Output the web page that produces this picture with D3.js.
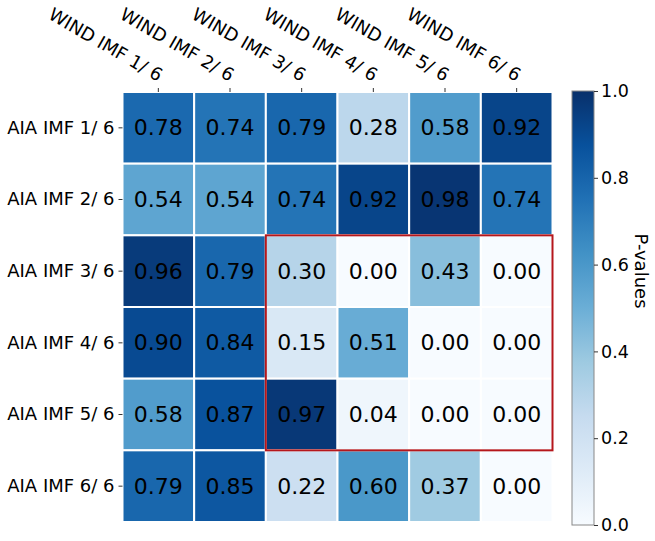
<!DOCTYPE html>
<html>
<head>
<meta charset="utf-8">
<script src="https://cdn.jsdelivr.net/npm/d3@7"></script>
<style>
  body { margin: 0; background: #fff; }
  text { font-family: "DejaVu Sans", sans-serif; }
</style>
</head>
<body>
<svg id="chart" width="655" height="541"></svg>
<script>
const rowLabels = ['AIA IMF 1/ 6', 'AIA IMF 2/ 6', 'AIA IMF 3/ 6', 'AIA IMF 4/ 6', 'AIA IMF 5/ 6', 'AIA IMF 6/ 6'];
const colLabels = ['WIND IMF 1/ 6', 'WIND IMF 2/ 6', 'WIND IMF 3/ 6', 'WIND IMF 4/ 6', 'WIND IMF 5/ 6', 'WIND IMF 6/ 6'];
const pValues = [
    [0.78, 0.74, 0.79, 0.28, 0.58, 0.92],
    [0.54, 0.54, 0.74, 0.92, 0.98, 0.74],
    [0.96, 0.79, 0.30, 0.00, 0.43, 0.00],
    [0.90, 0.84, 0.15, 0.51, 0.00, 0.00],
    [0.58, 0.87, 0.97, 0.04, 0.00, 0.00],
    [0.79, 0.85, 0.22, 0.60, 0.37, 0.00]
];
const cbTicks = [0.0, 0.2, 0.4, 0.6, 0.8, 1.0];
// highlighted block: rows 3..5, cols 3..6
const boxRows = [2, 4];
const boxCols = [2, 5];

const blues = ['#f7fbff', '#deebf7', '#c6dbef', '#9ecae1', '#6baed6', '#4292c6', '#2171b5', '#08519c', '#08306b'];

let svg = d3.select('#chart');

const gridLeft = 122.5, gridTop = 92, gridSize = 430;

const x = d3.scaleBand().domain(d3.range(6)).range([gridLeft, gridLeft + gridSize]);
const y = d3.scaleBand().domain(d3.range(6)).range([gridTop, gridTop + gridSize]);
const color = d3.scaleLinear()
    .domain(d3.range(9).map(i => i / 8))
    .range(blues)
    .clamp(true);

const cells = [];
pValues.forEach((row, r) => row.forEach((v, c) => cells.push({ r, c, v })));

let g = svg.append('g');
g.selectAll('rect')
    .data(cells)
    .join('rect')
    .attr('x', d => x(d.c))
    .attr('y', d => y(d.r))
    .attr('width', x.bandwidth())
    .attr('height', y.bandwidth())
    .style('fill', d => color(d.v))
    .style('stroke', '#fff')
    .style('stroke-width', 2);

g.selectAll('text')
    .data(cells)
    .join('text')
    .attr('x', d => x(d.c) + x.bandwidth() / 2)
    .attr('y', d => y(d.r) + y.bandwidth() / 2)
    .attr('text-anchor', 'middle')
    .attr('dominant-baseline', 'central')
    .style('font-size', '22px')
    .style('fill', '#000')
    .text(d => d.v.toFixed(2));

// row axis on left
let yAxis = svg.append('g')
    .attr('transform', `translate(${gridLeft},0)`)
    .call(d3.axisLeft(y).tickSize(4).tickPadding(4).tickFormat(i => rowLabels[i]));
yAxis.select('.domain').remove();
yAxis.selectAll('text').style('font-size', '18px').style('fill', '#000');
yAxis.selectAll('line').style('stroke', '#333');

// column axis on top, rotated labels
let xAxis = svg.append('g')
    .attr('transform', `translate(0,${gridTop})`)
    .call(d3.axisTop(x).tickSize(4).tickFormat(i => colLabels[i]));
xAxis.select('.domain').remove();
xAxis.selectAll('line').style('stroke', '#333');
xAxis.selectAll('text')
    .style('font-size', '18px')
    .style('fill', '#000')
    .attr('text-anchor', 'end')
    .attr('y', 0)
    .attr('dy', 0)
    .attr('transform', 'translate(-0.5,-10) rotate(30)');

// highlight box
svg.append('rect')
    .attr('x', x(boxCols[0]))
    .attr('y', y(boxRows[0]))
    .attr('width', x(boxCols[1]) + x.bandwidth() - x(boxCols[0]))
    .attr('height', y(boxRows[1]) + y.bandwidth() - y(boxRows[0]))
    .style('fill', 'none')
    .style('stroke', '#b5171c')
    .style('stroke-width', 2);

// colorbar
const cbX = 572, cbW = 22, cbTop = 91, cbBottom = 525;
const cbScale = d3.scaleLinear().domain([0, 1]).range([cbBottom, cbTop]);
const defs = svg.append('defs');
const grad = defs.append('linearGradient')
    .attr('id', 'cbgrad')
    .attr('x1', 0).attr('y1', 1).attr('x2', 0).attr('y2', 0);
grad.selectAll('stop')
    .data(blues)
    .join('stop')
    .attr('offset', (d, i) => i / 8)
    .attr('stop-color', d => d);

svg.append('rect')
    .attr('x', cbX)
    .attr('y', cbTop)
    .attr('width', cbW)
    .attr('height', cbBottom - cbTop)
    .style('fill', 'url(#cbgrad)')
    .style('stroke', '#888')
    .style('stroke-width', 1);

let cbAxis = svg.append('g')
    .attr('transform', `translate(${cbX + cbW},0)`)
    .call(d3.axisRight(cbScale).tickValues(cbTicks).tickSize(4).tickPadding(3).tickFormat(d3.format('.1f')));
cbAxis.select('.domain').remove();
cbAxis.selectAll('line').style('stroke', '#333');
cbAxis.selectAll('text').style('font-size', '17.5px').style('fill', '#000');

svg.append('text')
    .attr('transform', 'translate(641,271) rotate(90)')
    .attr('text-anchor', 'middle')
    .attr('dominant-baseline', 'central')
    .style('font-size', '18px')
    .text('P-values');
</script>
</body>
</html>
